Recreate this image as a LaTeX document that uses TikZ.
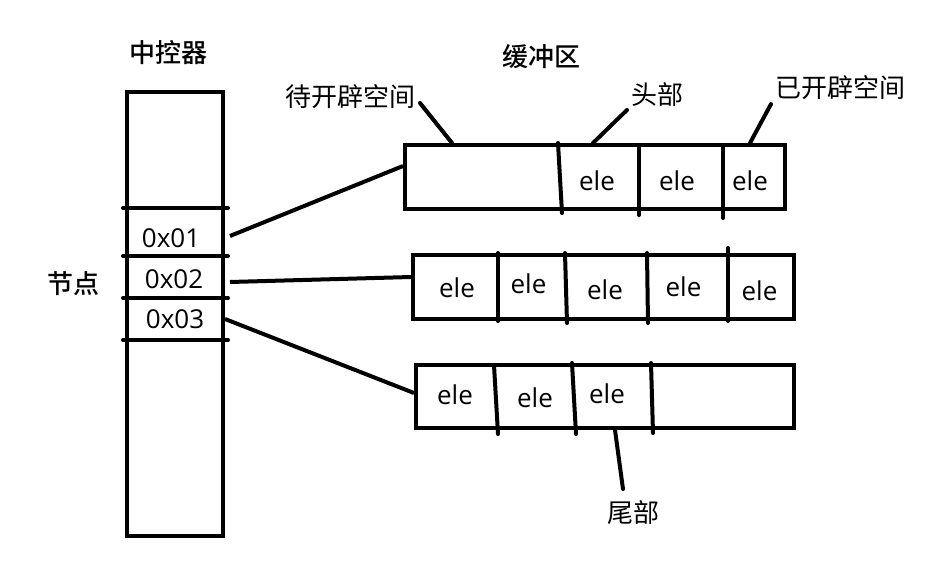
\documentclass[tikz,border=0pt]{standalone}
\usepackage{fontspec}
\setmainfont{Open Sans}
\newfontfamily\cjk{Noto Sans CJK SC}
\newfontfamily\cjkmid{Noto Sans CJK SC Medium}
\usetikzlibrary{positioning}

\begin{document}
\begin{tikzpicture}[x=1pt, y=-1pt, line width=4pt,
        every node/.style={font=\fontsize{26}{31}\selectfont, inner sep=0pt},
        title/.style={font=\fontsize{26}{31}\selectfont\cjkmid},
        note/.style={font=\fontsize{26}{31}\selectfont\cjk},
        buffer/.style={draw, minimum height=64pt, minimum width=#1},
        cut/.style={line cap=round},
        lead/.style={line cap=round}]
        \useasboundingbox (0,0) rectangle (946,576);

        % controller column
        \node[draw, minimum width=96pt, minimum height=444pt] (ctrl) at (175,314) {};
        \node[title] (ctrl_title) at (168,53) {中控器};
        \node[title] (slot_title) at (73,284) {节点};
        \foreach \y in {208,256,298,340}
            \draw[cut] (123,\y) -- (228,\y);
        \node (slot1) at (171,238.5) {0x01};
        \node (slot2) at (174,279) {0x02};
        \node (slot3) at (175,319) {0x03};

        % buffers
        \node[title] (buf_title) at (541,57) {缓冲区};
        \node[buffer=380pt] (buf1) at (595,177) {};
        \node[buffer=381pt] (buf2) at (603.5,287) {};
        \node[buffer=378pt, minimum height=63pt] (buf3) at (605,396.5) {};

        \foreach \xa/\ya/\xb/\yb in {558/143/562/213, 639/148/639/215, 723/145/723/218}
            \draw[cut] (\xa,\ya) -- (\xb,\yb);
        \foreach \xa/\ya/\xb/\yb in {498/253/498/321, 565/253/567/323, 647/253/648/323, 728/248/728/321}
            \draw[cut] (\xa,\ya) -- (\xb,\yb);
        \foreach \xa/\ya/\xb/\yb in {494/365/498/434, 572/363/576/434, 651/363/653/433}
            \draw[cut] (\xa,\ya) -- (\xb,\yb);

        \foreach \x/\y [count=\i] in {597/181, 677/181, 750/181}
            \node (buf1_ele\i) at (\x,\y) {ele};
        \foreach \x/\y [count=\i] in {457/288, 528.5/284, 605/290, 683.5/287, 759.5/291}
            \node (buf2_ele\i) at (\x,\y) {ele};
        \foreach \x/\y [count=\i] in {455/394.5, 535/398, 607/394}
            \node (buf3_ele\i) at (\x,\y) {ele};

        % controller to buffers
        \draw ([xshift=5pt]ctrl.east |- 0,236) -- ([yshift=11pt]buf1.west);
        \draw ([xshift=5pt]ctrl.east |- 0,282) -- ([yshift=10pt]buf2.west);
        \draw (ctrl.east |- slot3) -- ([yshift=3.5pt]buf3.west);

        % notes
        \node[note] (todo) at (350,97) {待开辟空间};
        \node[note] (head) at (657,95) {头部};
        \node[note] (done) at (840,88) {已开辟空间};
        \node[note] (tail) at (633,513) {尾部};
        \draw[lead] ([shift={(3,6)}]todo.east) -- ([xshift=49pt]buf1.north west);
        \draw[lead] ([shift={(-2,1)}]head.south west) -- ([xshift=190pt]buf1.north west);
        \draw[lead] ([shift={(-2,2)}]done.south west) -- ([xshift=-37pt]buf1.north east);
        \draw[lead] ([xshift=201pt]buf3.south west) -- ([shift={(-10,-10)}]tail.north);
\end{tikzpicture}
\end{document}
